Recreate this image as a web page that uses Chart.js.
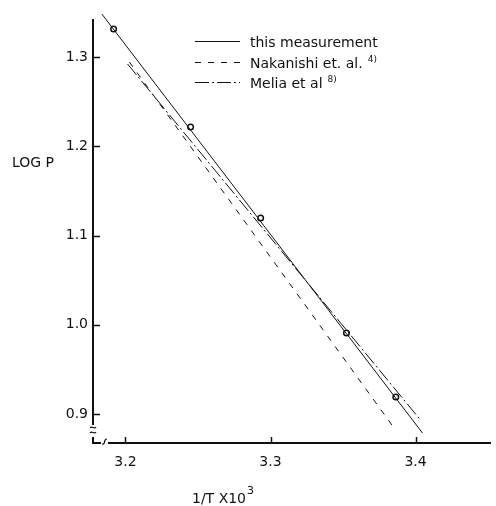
<!DOCTYPE html>
<html>
<head>
<meta charset="utf-8">
<script src="https://cdn.jsdelivr.net/npm/chart.js@4.4.0/dist/chart.umd.min.js"></script>
<style>
html, body { margin: 0; padding: 0; background: #fff; }
</style>
</head>
<body>
<canvas id="chart" width="496" height="506"></canvas>
<script>
// values (log P against 1/T x 10^3)
var seriesLabels = ['this measurement', 'Nakanishi et. al.', 'Melia et al'];
var seriesRefs = ['', '4)', '8)'];

var measuredX = [3.1918, 3.2449, 3.2932, 3.3524, 3.3864];
var measuredY = [1.3314, 1.2216, 1.1196, 0.9908, 0.9190];

var fitX = [3.1837, 3.4048];
var fitY = [1.3482, 0.8787];
var nakanishiX = [3.2027, 3.3837];
var nakanishiY = [1.2944, 0.8877];
var meliaX = [3.2014, 3.4034];
var meliaY = [1.2922, 0.8933];

var xTicks = [3.2, 3.3, 3.4];
var xTickLabels = ['3.2', '3.3', '3.4'];
var yTicks = [0.9, 1.0, 1.1, 1.2, 1.3];
var yTickLabels = ['0.9', '1.0', '1.1', '1.2', '1.3'];

var INK = '#111';
var FONT = "'DejaVu Sans', sans-serif";

function toPoints(xs, ys) {
    return xs.map(function (x, i) { return { x: x, y: ys[i] }; });
}

var decorations = {
    id: 'decorations',
    afterDraw: function (chart) {
        var ctx = chart.ctx;
        var area = chart.chartArea;
        var xs = chart.scales.x, ys = chart.scales.y;
        ctx.save();
        ctx.strokeStyle = INK;
        ctx.fillStyle = INK;

        // ticks point into the plot
        ctx.lineWidth = 1.5;
        yTicks.forEach(function (v) {
            var py = Math.round(ys.getPixelForValue(v)) + 0.5;
            ctx.beginPath();
            ctx.moveTo(area.left, py);
            ctx.lineTo(area.left + 7, py);
            ctx.stroke();
        });
        xTicks.forEach(function (v) {
            var px = Math.round(xs.getPixelForValue(v)) + 0.5;
            ctx.beginPath();
            ctx.moveTo(px, area.bottom);
            ctx.lineTo(px, area.bottom - 6);
            ctx.stroke();
        });

        // axis breaks near the origin
        ctx.fillStyle = '#fff';
        ctx.fillRect(area.left - 3, area.bottom - 18, 6, 12);
        ctx.fillRect(area.left + 8, area.bottom - 2, 7, 4);
        ctx.lineWidth = 1.2;
        [area.bottom - 16, area.bottom - 11].forEach(function (y) {
            ctx.beginPath();
            ctx.moveTo(area.left - 3, y + 1);
            ctx.bezierCurveTo(area.left - 1, y - 2, area.left + 1, y + 3, area.left + 3, y);
            ctx.stroke();
        });
        ctx.lineWidth = 2;
        ctx.beginPath();
        ctx.moveTo(area.left, area.bottom - 6);
        ctx.lineTo(area.left, area.bottom);
        ctx.lineTo(area.left + 7, area.bottom);
        ctx.stroke();
        ctx.lineWidth = 1.2;
        ctx.beginPath();
        ctx.moveTo(area.left + 14, area.bottom - 4);
        ctx.bezierCurveTo(area.left + 10, area.bottom - 4, area.left + 13, area.bottom + 2, area.left + 9, area.bottom + 1);
        ctx.stroke();

        // axis titles
        ctx.fillStyle = INK;
        ctx.font = '14px ' + FONT;
        ctx.textBaseline = 'middle';
        ctx.textAlign = 'left';
        ctx.fillText('LOG P', 12, 163);
        var t = '1/T X10';
        ctx.fillText(t, 192, 499);
        var tw = ctx.measureText(t).width;
        ctx.font = '11px ' + FONT;
        ctx.fillText('3', 192 + tw + 1, 491);

        // legend inside the plot
        var rows = [41, 62, 82];
        chart.data.datasets.slice(0, 3).forEach(function (ds, i) {
            ctx.strokeStyle = INK;
            ctx.lineWidth = 1;
            ctx.setLineDash(ds.borderDash || []);
            ctx.beginPath();
            ctx.moveTo(195, rows[i] + 0.5);
            ctx.lineTo(240, rows[i] + 0.5);
            ctx.stroke();
            ctx.setLineDash([]);
            ctx.font = '14px ' + FONT;
            ctx.fillText(ds.label, 250, rows[i] + 2);
            if (seriesRefs[i]) {
                var w = ctx.measureText(ds.label).width;
                ctx.font = '9px ' + FONT;
                ctx.fillText(seriesRefs[i], 250 + w + 5, rows[i] - 2);
            }
        });
        ctx.restore();
    }
};

new Chart(document.getElementById('chart'), {
    type: 'line',
    data: {
        datasets: [{
            label: seriesLabels[0],
            data: toPoints(fitX, fitY),
            borderColor: INK,
            borderWidth: 1,
            pointRadius: 0,
            clip: false
        }, {
            label: seriesLabels[1],
            data: toPoints(nakanishiX, nakanishiY),
            borderColor: INK,
            borderWidth: 1,
            borderDash: [6, 7],
            pointRadius: 0
        }, {
            label: seriesLabels[2],
            data: toPoints(meliaX, meliaY),
            borderColor: INK,
            borderWidth: 1,
            borderDash: [14, 3, 2, 3],
            pointRadius: 0
        }, {
            label: 'measured points',
            data: toPoints(measuredX, measuredY),
            showLine: false,
            pointRadius: 2.8,
            pointBorderWidth: 1.5,
            pointBorderColor: INK,
            pointBackgroundColor: '#fff'
        }]
    },
    options: {
        responsive: false,
        animation: false,
        layout: { padding: { top: 20, right: 0, left: 0, bottom: 0 } },
        plugins: { legend: { display: false }, tooltip: { enabled: false } },
        scales: {
            x: {
                type: 'linear',
                min: 3.1776,
                max: 3.4517,
                afterBuildTicks: function (s) { s.ticks = xTicks.map(function (v) { return { value: v }; }); },
                afterFit: function (s) { s.height = 63; },
                grid: { drawOnChartArea: false, drawTicks: false },
                border: { color: INK, width: 2 },
                ticks: {
                    padding: 11,
                    color: INK,
                    font: { family: FONT, size: 14 },
                    maxRotation: 0,
                    callback: function (v, i) { return xTickLabels[i]; }
                }
            },
            y: {
                type: 'linear',
                min: 0.8675,
                max: 1.3415,
                afterBuildTicks: function (s) { s.ticks = yTicks.map(function (v) { return { value: v }; }); },
                afterFit: function (s) { s.width = 93; },
                grid: { drawOnChartArea: false, drawTicks: false },
                border: { color: INK, width: 2 },
                ticks: {
                    padding: 5,
                    color: INK,
                    font: { family: FONT, size: 14 },
                    callback: function (v, i) { return yTickLabels[i]; }
                }
            }
        }
    },
    plugins: [decorations]
});
</script>
</body>
</html>
